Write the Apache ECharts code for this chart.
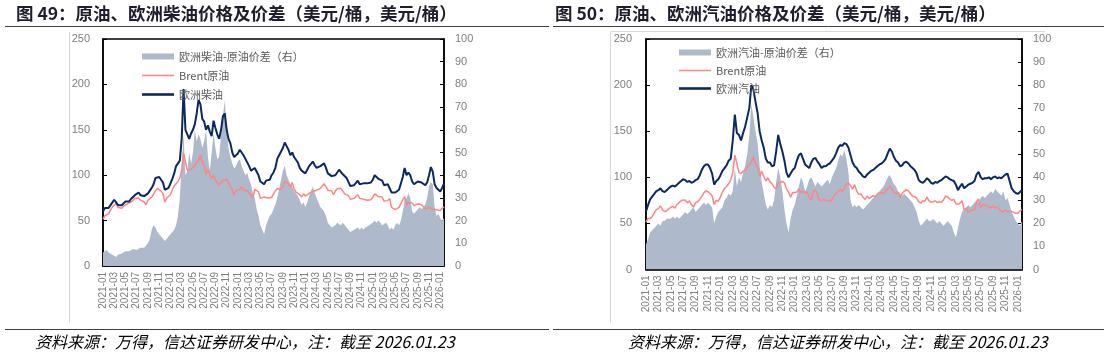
<!DOCTYPE html>
<html><head><meta charset="utf-8">
<script src="https://cdn.jsdelivr.net/npm/echarts@6/dist/echarts.min.js"></script>
<style>html,body{margin:0;padding:0;background:#fff}#c{width:1108px;height:355px}</style>
</head><body><div id="c"></div>
<script>
// ---- data (3 points per month: 1st, 11th, 21st; 2021-01-01 .. 2026-01-21) ----
const brent = [
 51.5,55.5,55.0, 57.5,61.5,65.0, 66.0,69.0,64.5, 63.0,63.5,66.0, 67.5,68.5,66.5, 70.5,72.5,74.5, 75.5,75.0,72.5, 74.5,70.5,67.5, 72.5,73.5,76.0, 79.0,83.0,85.5, 84.5,82.5,80.0, 70.5,75.0,74.0,
 78.5,84.0,88.0, 90.0,93.0,97.0, 105.0,124.0,115.0, 105.0,104.0,106.5, 107.0,111.0,114.0, 117.0,122.0,114.5, 111.0,101.0,106.5, 101.0,96.0,99.5, 95.0,93.0,89.0, 87.5,94.5,94.0, 95.5,94.0,87.5, 84.0,78.5,83.5,
 83.5,84.0,87.5, 83.5,85.0,83.0, 84.0,78.0,75.0, 84.5,86.5,81.5, 74.5,75.0,76.0, 75.0,75.0,73.5, 75.5,79.5,82.5, 85.0,87.0,84.5, 88.0,93.0,93.5, 91.0,87.0,92.0, 85.0,81.5,82.0, 78.5,76.0,79.5,
 77.0,78.5,80.0, 79.0,82.0,83.0, 83.5,82.0,85.5, 87.5,90.5,87.5, 83.5,82.5,83.0, 78.5,82.5,85.0, 86.5,85.5,82.5, 79.5,79.0,77.5, 73.5,72.0,74.5, 74.0,78.5,74.5, 73.0,73.5,74.5, 72.5,73.5,73.0,
 75.5,79.5,79.0, 76.5,75.0,76.0, 71.5,70.5,72.0, 74.5,64.5,66.5, 62.0,64.0,64.5, 64.5,73.0,76.5, 67.0,70.0,69.5, 69.5,66.5,67.5, 68.5,66.5,67.5, 65.5,63.0,62.5, 64.5,63.0,62.5, 63.0,62.0,61.0,
 61.0,63.5,65.0
];
const diesel = [
 60,64,63, 64,67,70, 73,72,67, 66,67,69, 71,72,71, 74,76,78, 80,81,78, 80,77,75, 80,82,86, 90,97,99, 98,96,92, 84,86,86,
 91,96,102, 110,112,116, 140,195,150, 145,140,146, 150,156,168, 183,178,162, 159,150,155, 148,143,160, 152,145,140, 150,165,168, 150,140,135, 125,120,122,
 124,128,126, 122,118,117, 110,105,104, 108,104,100, 93,92,90, 94,95,95, 100,103,108, 118,122,123, 130,136,132, 128,122,125, 120,117,114, 108,105,107,
 102,106,110, 112,115,111, 108,106,110, 112,113,108, 102,100,99, 97,100,103, 106,104,101, 99,97,95, 88,86,89, 90,94,90, 90,91,92, 91,90,92,
 95,100,99, 96,95,94, 89,88,90, 88,81,80, 81,83,84, 85,98,108, 100,103,100, 93,90,91, 93,94,92, 91,89,92, 100,109,104, 90,86,85,
 82,86,91
];
const dieselSpread = [
 6,5.5,7, 6,5.5,5, 4.5,4,5, 5,5.5,6, 6.5,7,6.5, 7,7.5,7, 7,7.5,8, 8.5,8,9, 10,12,16, 18,17,15, 14,13,12, 11,12,13,
 14,15,16, 18,22,30, 45,58,40, 42,50,45, 50,60,55, 58,56,52, 55,60,48, 42,50,58, 52,47,48, 58,66,73, 60,52,48, 45,43,44,
 46,47,44, 42,40,41, 38,36,32, 30,25,22, 18,16,14, 18,20,22, 23,25,27, 30,34,38, 42,44,40, 38,36,35, 33,32,31, 29,27,28,
 26,28,31, 33,35,32, 30,28,26, 25,24,22, 19,18,17, 17,18,19, 19,18,19, 18,17,16, 15,15,16, 16,17,16, 17,16,17, 17,18,18,
 19,20,19, 20,19,18, 18,19,18, 16,17,16, 18,19,18, 20,24,29, 30,32,30, 24,23,24, 24,26,25, 25,27,30, 35,37,36, 26,22,23,
 21,20,21
];
const gasoline = [
 63,70,76, 79,82,85, 86,88,85, 84,86,88, 90,91,90, 92,94,96, 98,97,95, 96,94,95, 97,98,102, 108,112,114, 114,110,104, 92,96,98,
 102,107,110, 113,118,120, 140,168,148, 146,140,148, 155,165,175, 200,195,182, 170,150,140, 132,120,116, 116,112,113, 128,146,136, 128,118,105, 100,104,108,
 110,118,124, 126,120,114, 112,110,116, 120,121,117, 114,110,112, 112,114,115, 118,121,126, 132,135,134, 137,136,132, 124,116,112, 110,106,104, 101,100,103,
 105,107,108, 110,112,114, 115,117,120, 126,131,128, 122,118,116, 112,113,116, 117,115,112, 110,108,104, 97,95,94, 96,99,97, 94,93,95, 94,96,97,
 99,101,100, 98,97,96, 92,86,90, 93,88,90, 92,93,94, 96,103,106, 100,98,99, 99,100,98, 100,101,99, 100,99,101, 103,104,96, 88,85,83,
 82,84,86
];
const gasolineSpread = [
 11,13,16, 17,18,19, 20,19,21, 21,22,22, 22,23,22, 23,22,23, 24,25,24, 25,26,27, 25,26,27, 28,29,28, 29,28,27, 20,23,25,
 26,27,30, 31,33,32, 34,44,36, 40,38,42, 45,50,58, 72,66,60, 55,45,38, 33,28,26, 28,27,30, 38,44,40, 34,26,20, 16,22,26,
 28,32,36, 40,38,34, 36,39,40, 38,36,38, 37,36,37, 38,39,37, 40,42,44, 47,50,49, 52,48,42, 30,27,28, 27,28,27, 26,27,28,
 29,30,31, 32,33,34, 35,36,38, 40,41,39, 37,36,34, 33,32,33, 32,31,30, 29,27,25, 21,19,20, 21,22,21, 21,22,21, 20,21,20,
 19,20,21, 20,19,16, 14,18,22, 25,26,27, 28,27,28, 29,30,29, 31,32,31, 32,33,34, 33,35,34, 33,32,34, 30,31,28, 25,23,21,
 20,19,21
];
const dates = [];
for (let y = 2021; y <= 2026; y++) {
  for (let m = 1; m <= 12; m++) {
    if (y === 2026 && m > 1) break;
    for (const d of ['01', '11', '21']) dates.push(y + '-' + String(m).padStart(2, '0') + '-' + d);
  }
}
const leftTicks = [0, 50, 100, 150, 200, 250];
const rightTicks = [0, 10, 20, 30, 40, 50, 60, 70, 80, 90, 100];

const NAVY = '#0c2861', PINK = '#ff8585', GREY = '#aeb9cb';
const LBL = '#7f7f7f';
const isTick = (i, v) => v.endsWith('-01') && parseInt(v.slice(5, 7), 10) % 2 === 1;

function xAxisCfg(g) {
  return {
    type: 'category', gridIndex: g, data: dates, boundaryGap: false,
    axisLine: { lineStyle: { color: '#000', width: 1.5 } },
    axisTick: { inside: true, length: 4, interval: isTick, lineStyle: { color: '#000', width: 1 } },
    axisLabel: { interval: isTick, rotate: 90, formatter: v => v.slice(0, 7), color: LBL, fontSize: 10, margin: 6, fontFamily: 'Liberation Sans, Arial, sans-serif' },
    splitLine: { show: false }
  };
}
function yAxisCfg(g, pos, ticks, margin) {
  return {
    type: 'value', gridIndex: g, position: pos, min: ticks[0], max: ticks[ticks.length - 1], interval: ticks[1] - ticks[0],
    axisLine: { show: true, lineStyle: { color: '#000', width: 1.5 } },
    axisTick: { show: true, inside: true, length: 4, lineStyle: { color: '#000' } },
    axisLabel: { color: LBL, fontSize: 11, margin: margin, fontFamily: 'Liberation Sans, Arial, sans-serif' },
    splitLine: { show: false }
  };
}
const spreadIcon = 'path://M0 0H32V6H0Z';
const thinIcon = 'path://M0 0H32V1.5H0Z';
const thickIcon = 'path://M0 0H32V2.6H0Z';
function legendCfg(left, top, gap, names) {
  return {
    orient: 'vertical', left: left, top: top, itemWidth: 32, itemHeight: 8, itemGap: gap, selectedMode: false,
    textStyle: { fontSize: 11, color: '#595959', fontFamily: 'Noto Sans CJK SC, sans-serif' },
    data: [
      { name: names[0], icon: spreadIcon, itemStyle: { color: GREY } },
      { name: names[1], icon: thinIcon, itemStyle: { color: PINK } },
      { name: names[2], icon: thickIcon, itemStyle: { color: NAVY } }
    ]
  };
}
const titleFont = 'Noto Sans CJK SC, sans-serif';
const chart = echarts.init(document.getElementById('c'), null, { renderer: 'canvas' });
chart.setOption({
  backgroundColor: '#fff',
  animation: false,
  title: [
    { text: '图 49：原油、欧洲柴油价格及价差（美元/桶，美元/桶）', left: 16, top: 5, padding: 0, textStyle: { fontSize: 17.5, fontWeight: 'bold', color: '#1e1e2e', fontFamily: titleFont } },
    { text: '图 50：原油、欧洲汽油价格及价差（美元/桶，美元/桶）', left: 555, top: 5, padding: 0, textStyle: { fontSize: 17.5, fontWeight: 'bold', color: '#1e1e2e', fontFamily: titleFont } },
    { text: '资料来源：万得，信达证券研发中心，注：截至 2026.01.23', left: 35, top: 334, padding: 0, textStyle: { fontSize: 16, fontWeight: 'normal', fontStyle: 'italic', color: '#000', fontFamily: titleFont } },
    { text: '资料来源：万得，信达证券研发中心，注：截至 2026.01.23', left: 628, top: 334, padding: 0, textStyle: { fontSize: 16, fontWeight: 'normal', fontStyle: 'italic', color: '#000', fontFamily: titleFont } }
  ],
  graphic: [
    { type: 'line', shape: { x1: 5, y1: 26.5, x2: 549, y2: 26.5 }, style: { stroke: '#404040', lineWidth: 1 } },
    { type: 'line', shape: { x1: 553, y1: 26.5, x2: 1104, y2: 26.5 }, style: { stroke: '#404040', lineWidth: 1 } },
    { type: 'line', shape: { x1: 5, y1: 329.5, x2: 549, y2: 329.5 }, style: { stroke: '#404040', lineWidth: 1 } },
    { type: 'line', shape: { x1: 553, y1: 329.5, x2: 1104, y2: 329.5 }, style: { stroke: '#404040', lineWidth: 1 } },
    { type: 'line', shape: { x1: 69.5, y1: 32, x2: 69.5, y2: 323 }, style: { stroke: '#d9d9d9', lineWidth: 1 } },
    { type: 'line', shape: { x1: 610.5, y1: 31.5, x2: 610.5, y2: 323 }, style: { stroke: '#d9d9d9', lineWidth: 1 } },
    { type: 'line', shape: { x1: 610.5, y1: 31.5, x2: 1045, y2: 31.5 }, style: { stroke: '#d9d9d9', lineWidth: 1 } }
  ],
  grid: [
    { left: 103, top: 39, width: 341, height: 227, show: true, borderColor: '#000', borderWidth: 1.5, backgroundColor: 'transparent' },
    { left: 646, top: 39, width: 376, height: 230.5, show: true, borderColor: '#000', borderWidth: 1.5, backgroundColor: 'transparent' }
  ],
  legend: [
    legendCfg(137, 46, 8, ['欧洲柴油-原油价差（右）', 'Brent原油', '欧洲柴油']),
    legendCfg(674, 42, 7, ['欧洲汽油-原油价差（右）', 'Brent原油', '欧洲汽油'])
  ],
  xAxis: [xAxisCfg(0), xAxisCfg(1)],
  yAxis: [
    yAxisCfg(0, 'left', leftTicks, 13), yAxisCfg(0, 'right', rightTicks, 11),
    yAxisCfg(1, 'left', leftTicks, 14), yAxisCfg(1, 'right', rightTicks, 11)
  ],
  series: [
    { name: '欧洲柴油-原油价差（右）', type: 'line', xAxisIndex: 0, yAxisIndex: 1, data: dieselSpread, symbol: 'none', color: GREY,
      lineStyle: { width: 0 }, areaStyle: { color: GREY, opacity: 1 }, z: 1 },
    { name: 'Brent原油', type: 'line', xAxisIndex: 0, yAxisIndex: 0, data: brent, symbol: 'none', color: PINK, lineStyle: { width: 1.5, color: PINK }, z: 2 },
    { name: '欧洲柴油', type: 'line', xAxisIndex: 0, yAxisIndex: 0, data: diesel, symbol: 'none', color: NAVY, lineStyle: { width: 2, color: NAVY }, z: 3 },
    { name: '欧洲汽油-原油价差（右）', type: 'line', xAxisIndex: 1, yAxisIndex: 3, data: gasolineSpread, symbol: 'none', color: GREY,
      lineStyle: { width: 0 }, areaStyle: { color: GREY, opacity: 1 }, z: 1 },
    { name: 'Brent原油', type: 'line', xAxisIndex: 1, yAxisIndex: 2, data: brent, symbol: 'none', color: PINK, lineStyle: { width: 1.5, color: PINK }, z: 2 },
    { name: '欧洲汽油', type: 'line', xAxisIndex: 1, yAxisIndex: 2, data: gasoline, symbol: 'none', color: NAVY, lineStyle: { width: 2, color: NAVY }, z: 3 }
  ]
});
</script></body></html>
